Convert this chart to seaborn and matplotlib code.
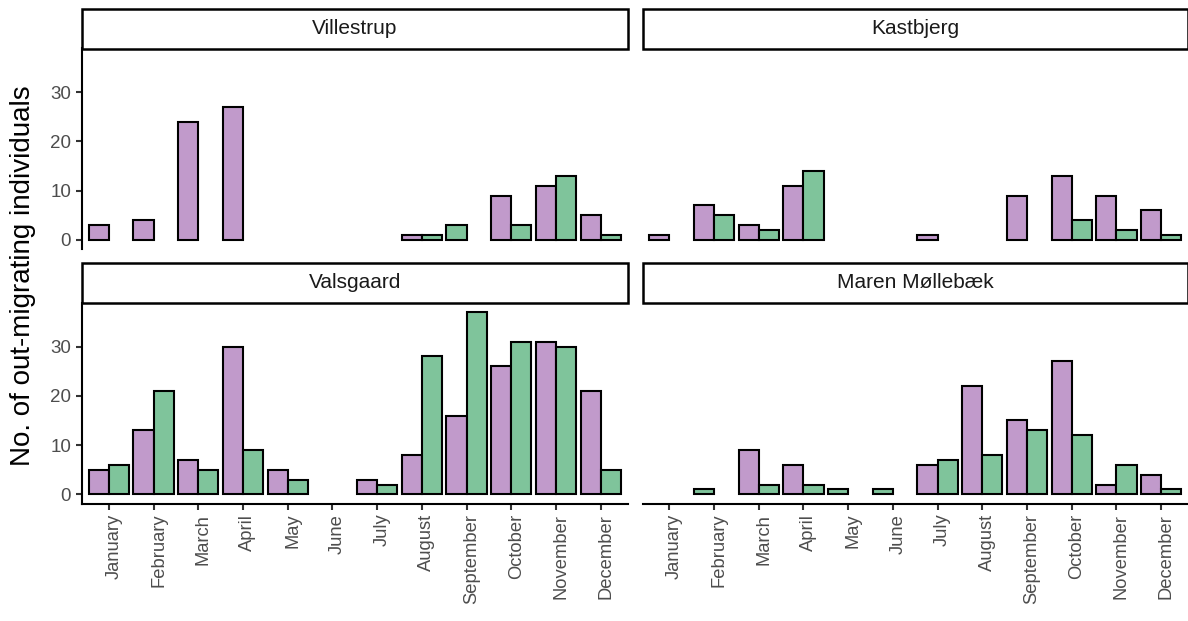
import numpy as np
import pandas as pd
import seaborn as sns
import matplotlib.pyplot as plt
from matplotlib.patches import Rectangle
from matplotlib.transforms import ScaledTranslation

months = ["January", "February", "March", "April", "May", "June", "July",
          "August", "September", "October", "November", "December"]
sites = ["Villestrup", "Kastbjerg", "Valsgaard", "Maren Møllebæk"]
groups = ["first", "second"]
colors = {"first": "#C19ACB", "second": "#7FC49B"}

# monthly counts, 0 = nothing caught that month
villestrup_first = [3, 4, 24, 27, 0, 0, 0, 1, 0, 9, 11, 5]
villestrup_second = [0, 0, 0, 0, 0, 0, 0, 1, 3, 3, 13, 1]
kastbjerg_first = [1, 7, 3, 11, 0, 0, 1, 0, 9, 13, 9, 6]
kastbjerg_second = [0, 5, 2, 14, 0, 0, 0, 0, 0, 4, 2, 1]
valsgaard_first = [5, 13, 7, 30, 5, 0, 3, 8, 16, 26, 31, 21]
valsgaard_second = [6, 21, 5, 9, 3, 0, 2, 28, 37, 31, 30, 5]
maren_first = [0, 0, 9, 6, 0, 0, 6, 22, 15, 27, 2, 4]
maren_second = [0, 1, 2, 2, 1, 1, 7, 8, 13, 12, 6, 1]

counts = {
    "Villestrup": (villestrup_first, villestrup_second),
    "Kastbjerg": (kastbjerg_first, kastbjerg_second),
    "Valsgaard": (valsgaard_first, valsgaard_second),
    "Maren Møllebæk": (maren_first, maren_second),
}

# long format, only months with fish
rows = []
for site in sites:
    for gi, g in enumerate(groups):
        for mi, m in enumerate(months):
            n = counts[site][gi][mi]
            if n > 0:
                rows.append({"site": site, "month": m, "mi": mi, "group": g, "count": n})
df = pd.DataFrame(rows)

# dodge like ggplot preserve="single": a lone bar takes the left slot
n_present = df.groupby(["site", "mi"])["group"].transform("count")
df["slot"] = np.where(n_present == 1, 0, df["group"].map({"first": 0, "second": 1}))

sns.set_style("white")
plt.rcParams["font.family"] = ["Liberation Sans", "DejaVu Sans"]

BAR_W = 0.45
LW = 1.5


def draw_bars(data, **kws):
    ax = plt.gca()
    for _, r in data.iterrows():
        x = r["mi"] - BAR_W + r["slot"] * BAR_W
        ax.bar(x, r["count"], width=BAR_W, align="edge", color=colors[r["group"]],
               edgecolor="black", linewidth=LW, zorder=2)


g = sns.FacetGrid(df, col="site", col_wrap=2, col_order=sites, sharex=True, sharey=True)
g.map_dataframe(draw_bars)
g.set_titles("")
g.set_axis_labels("", "")

fig = g.figure
fig.set_size_inches(11.88, 6.21)
fig.set_dpi(100)
W, H = 1188, 621

# panel boxes in pixels (left, top, width, height)
lefts = [82, 642.5]
tops = [48.5, 303]
pw, ph = 545.5, 200.5
strip_h = 40

for i, site in enumerate(sites):
    ax = g.axes_dict[site]
    r, c = divmod(i, 2)
    ax.set_position([lefts[c] / W, (H - tops[r] - ph) / H, pw / W, ph / H])
    ax.set_xlim(-0.6, 11.6)
    ax.set_ylim(-1.85, 38.85)
    ax.set_yticks([0, 10, 20, 30])
    ax.set_xticks(range(12))
    ax.set_xticklabels(months, rotation=90, va="top", ha="center")

    for s in ["top", "right"]:
        ax.spines[s].set_visible(False)
    ax.spines["left"].set_visible(c == 0)
    ax.spines["bottom"].set_visible(r == 1)
    for s in ["left", "bottom"]:
        ax.spines[s].set_linewidth(LW)
        ax.spines[s].set_color("black")

    ax.tick_params(axis="y", left=(c == 0), labelleft=(c == 0), length=4.3, width=LW,
                   color="#333333", labelsize=13.5, labelcolor="#4D4D4D", pad=3.6)
    ax.tick_params(axis="x", bottom=(r == 1), labelbottom=(r == 1), length=4.3, width=LW,
                   color="#333333", labelsize=13.2, labelcolor="#4D4D4D", pad=3)

    # month labels sit a little right of their tick in the original
    shift = ScaledTranslation(5 / 100, 0, fig.dpi_scale_trans)
    for tick in ax.xaxis.get_major_ticks():
        tick.label1.set_transform(tick.label1.get_transform() + shift)

    # facet strip
    sh = strip_h / ph
    ax.add_patch(Rectangle((0, 1.0), 1, sh, transform=ax.transAxes, clip_on=False,
                           facecolor="white", edgecolor="black", linewidth=LW + 0.3, zorder=5))
    ax.text(0.5, 1.0 + sh / 2, site, transform=ax.transAxes, ha="center", va="center",
            fontsize=15, color="#1A1A1A", zorder=6)

fig.text(23 / W, 1 - 276 / H, "No. of out-migrating individuals", rotation=90,
         ha="center", va="center", fontsize=20, color="black")

fig.savefig("out.png", dpi=100)
